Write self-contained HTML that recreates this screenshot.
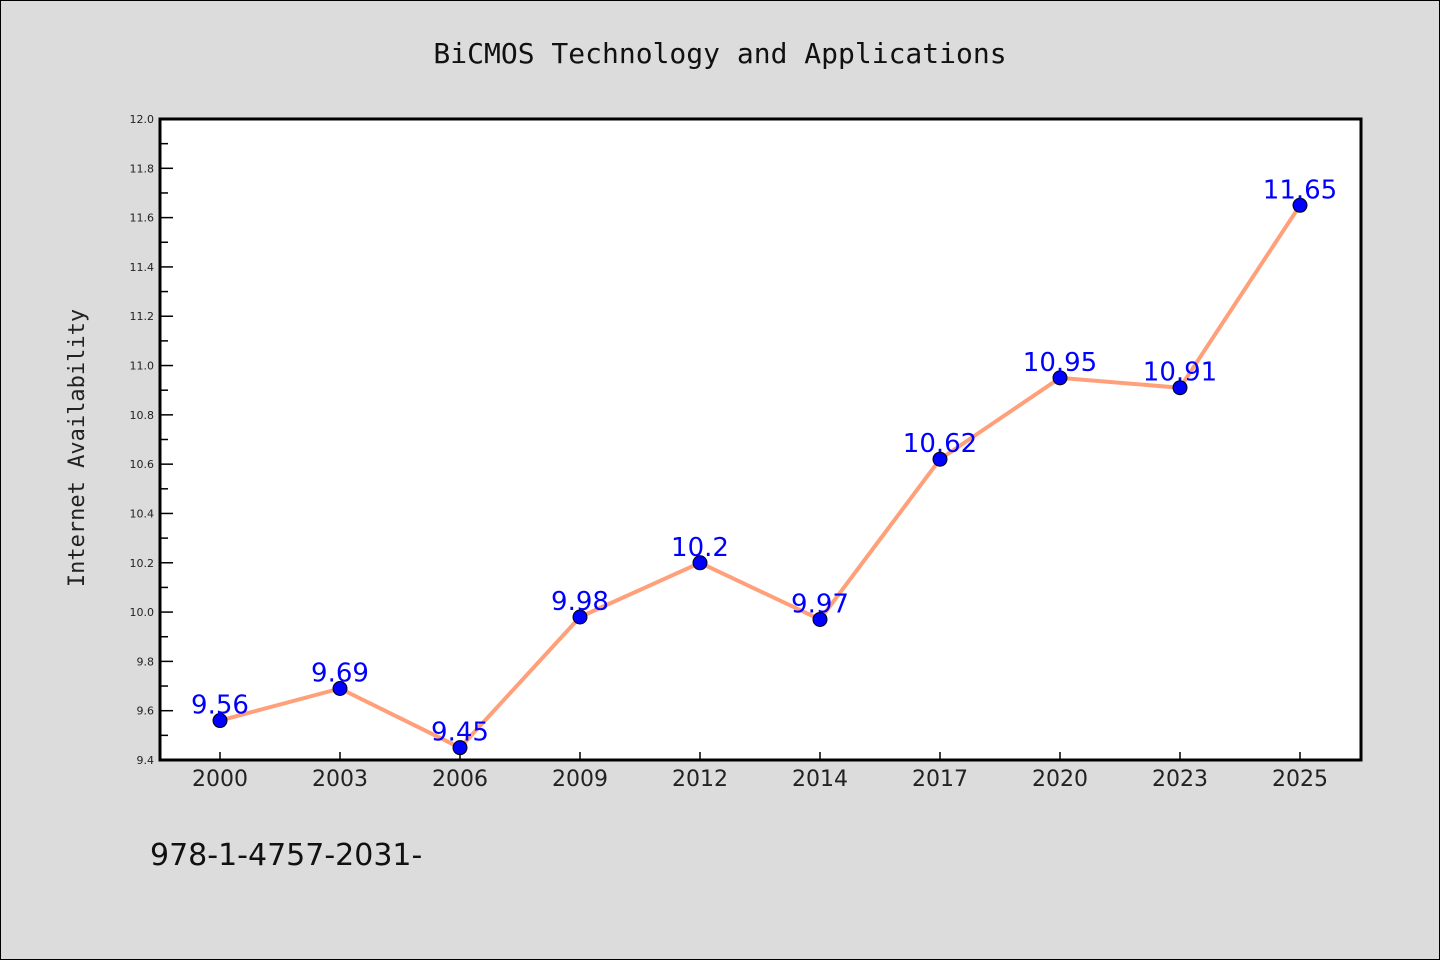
<!DOCTYPE html>
<html><head><meta charset="utf-8"><style>
body{margin:0;background:#dcdcdc;}
svg{display:block;}
</style></head><body>
<svg width="1440" height="960" xmlns="http://www.w3.org/2000/svg" id="chart">
<rect x="0.5" y="0.5" width="1439" height="959" fill="#dcdcdc" stroke="#000"/>
<text x="720" y="63" text-anchor="middle" font-family="DejaVu Sans Mono, Liberation Mono, monospace" font-size="28" fill="#111">BiCMOS Technology and Applications</text>
<rect x="160" y="119" width="1201" height="641" fill="#fff"/>
<g id="ticks"></g>
<g id="series"></g>
<rect x="160" y="119" width="1201" height="641" fill="none" stroke="#000" stroke-width="3"/>
<text transform="translate(84,448) rotate(-90)" text-anchor="middle" font-family="DejaVu Sans Mono, Liberation Mono, monospace" font-size="22" fill="#222">Internet Availability</text>
<text x="150" y="865" font-family="DejaVu Sans, Liberation Sans, sans-serif" font-size="30" fill="#111">978-1-4757-2031-</text>
</svg>
<script>
const categories = ["2000","2003","2006","2009","2012","2014","2017","2020","2023","2025"];
const values = [9.56,9.69,9.45,9.98,10.2,9.97,10.62,10.95,10.91,11.65];
const valueLabels = ["9.56","9.69","9.45","9.98","10.2","9.97","10.62","10.95","10.91","11.65"];
const yTickLabels = ["9.4","9.6","9.8","10.0","10.2","10.4","10.6","10.8","11.0","11.2","11.4","11.6","11.8","12.0"];
const yMin = 9.4, yMax = 12.0;
const L=160,T=119,R=1361,B=760;
const NS="http://www.w3.org/2000/svg";
const x = i => 220 + i*(1300-220)/(categories.length-1);
const y = v => B - (v-yMin)/(yMax-yMin)*(B-T);
function mk(tag, attrs, parent){const e=document.createElementNS(NS,tag);for(const k in attrs)e.setAttribute(k,attrs[k]);parent.appendChild(e);return e;}
const tk=document.getElementById('ticks'), sr=document.getElementById('series');
for(let v=yMin; v<=yMax+1e-9; v+=0.1){
  const major = Math.round(v*10)%2===0;
  const l=mk('line',{x1:L,x2:L+(major?13:8),y1:y(v),y2:y(v),stroke:'#000','stroke-width':1.5},tk);
  
  
}
yTickLabels.forEach(s=>{
  const t=mk('text',{x:L-6,y:y(parseFloat(s))+4,'text-anchor':'end','font-family':'DejaVu Sans, sans-serif','font-size':'11',fill:'#222'},tk);
  t.textContent=s;
  
  
});
categories.forEach((c,i)=>{
  const l=mk('line',{x1:x(i),x2:x(i),y1:B,y2:B-8,stroke:'#000','stroke-width':1.5},tk);
  
  
  const t=mk('text',{x:x(i),y:B+26,'text-anchor':'middle','font-family':'DejaVu Sans, Liberation Sans, sans-serif','font-size':'22',fill:'#222'},tk);
  t.textContent=c;
  
  
});
const pts=values.map((v,i)=>x(i)+','+y(v)).join(' ');
const pl=mk('polyline',{points:pts,fill:'none',stroke:'#ffa07a','stroke-width':4,'stroke-linejoin':'round'},sr);


values.forEach((v,i)=>{
  const c=mk('circle',{cx:x(i),cy:y(v),r:7,fill:'#0000ff',stroke:'#000','stroke-width':1},sr);
  
  
});
values.forEach((v,i)=>{
  const t=mk('text',{x:x(i),y:y(v)-7,'text-anchor':'middle','font-family':'DejaVu Sans, Liberation Sans, sans-serif','font-size':'26',fill:'#0000ff'},sr);
  t.textContent=valueLabels[i];
  
  
});
</script>
</body></html>
